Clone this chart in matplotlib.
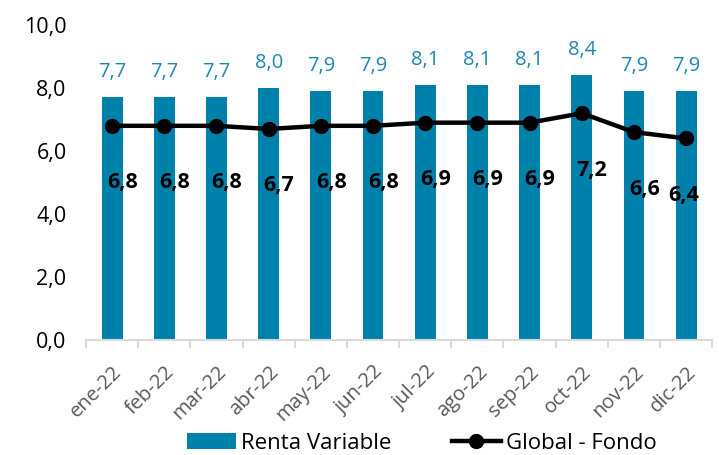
import numpy as np
import matplotlib.pyplot as plt

# --- Datos ---
meses = ["ene-22", "feb-22", "mar-22", "abr-22", "may-22", "jun-22",
         "jul-22", "ago-22", "sep-22", "oct-22", "nov-22", "dic-22"]
renta_variable = [7.7, 7.7, 7.7, 8.0, 7.9, 7.9, 8.1, 8.1, 8.1, 8.4, 7.9, 7.9]
global_fondo = [6.8, 6.8, 6.8, 6.7, 6.8, 6.8, 6.9, 6.9, 6.9, 7.2, 6.6, 6.4]
y_ticks = [0, 2, 4, 6, 8, 10]

COLOR_BARRA = "#0081AB"
COLOR_ETIQUETA = "#1B88B4"

plt.rcParams["font.family"] = ["Open Sans", "DejaVu Sans"]


def fmt(v):
    return f"{v:.1f}".replace(".", ",")


fig = plt.figure(figsize=(7.19, 4.55), dpi=100)
ax = fig.add_axes([0.1196, 0.2527, 0.8710, 0.6923])

x = np.arange(len(meses))
barras = ax.bar(x, renta_variable, width=0.4, color=COLOR_BARRA, label="Renta Variable", zorder=2)
linea, = ax.plot(x, global_fondo, color="black", linewidth=3.2, marker="o", markersize=10,
                 label="Global - Fondo", zorder=3)

# etiquetas de las barras
for xi, v in zip(x, renta_variable):
    ax.annotate(fmt(v), (xi, v), xytext=(0, 18), textcoords="offset points",
                ha="center", va="center", fontsize=14.5, color=COLOR_ETIQUETA)

# etiquetas de la línea (debajo del punto)
for i, (xi, v) in enumerate(zip(x, global_fondo)):
    dx = -1.5 if i == len(x) - 1 else 7.5
    ax.annotate(fmt(v), (xi, v), xytext=(dx, -41), textcoords="offset points",
                ha="center", va="center", fontsize=15.5, fontweight="bold", color="black")

ax.set_xlim(-0.5, len(meses) - 0.5)
ax.set_ylim(0, 10)
ax.set_yticks(y_ticks)
ax.set_yticklabels([fmt(t) for t in y_ticks], fontsize=15.5, color="black")
ax.tick_params(axis="y", length=0, pad=14)

ax.set_xticks(x)
ax.set_xticklabels(meses, rotation=45, ha="right", rotation_mode="anchor",
                   fontsize=14.5, color="#595959")
ax.set_xticks(np.arange(-0.5, len(meses)), minor=True)
ax.tick_params(axis="x", which="major", length=0, pad=16)
ax.tick_params(axis="x", which="minor", length=6, width=1.5, color="#D9D9D9")

for s in ["top", "right", "left"]:
    ax.spines[s].set_visible(False)
ax.spines["bottom"].set_color("#D9D9D9")
ax.spines["bottom"].set_linewidth(1.5)

fig.legend([barras, linea], ["Renta Variable", "Global - Fondo"],
           loc="center", bbox_to_anchor=(0.587, 0.026), ncol=2, frameon=False,
           fontsize=16, handlelength=2.2, handleheight=0.7, handletextpad=0.25,
           columnspacing=2.7, borderpad=0, borderaxespad=0)

fig.savefig("out.png", dpi=100)
